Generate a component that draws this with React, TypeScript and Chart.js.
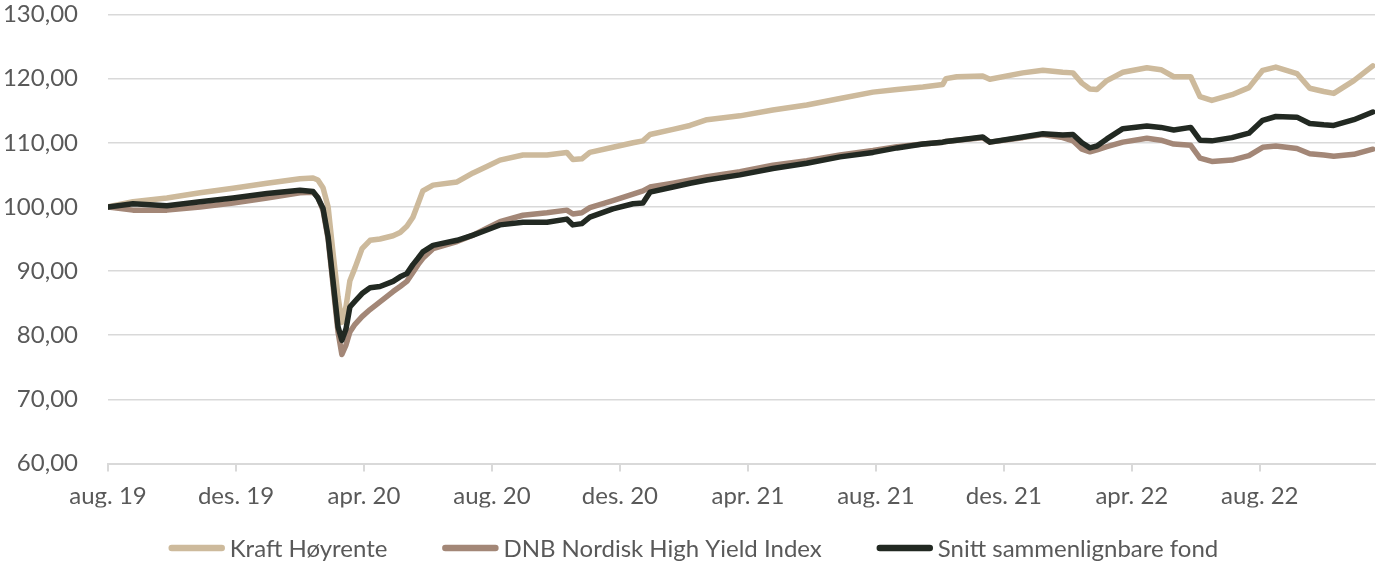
import React, { useEffect, useRef } from 'react';
import { Chart, registerables } from 'chart.js';

Chart.register(...registerables);

// x positions in months since August 2019
const months = [
  0, 0.78, 1.84, 2.88, 3.91, 4.97, 6.0, 6.41, 6.56, 6.72, 6.88, 7.03, 7.19, 7.31, 7.44, 7.56, 7.72, 7.94,
  8.19, 8.5, 8.91, 9.13, 9.34, 9.53, 9.69, 9.84, 10.16, 10.91, 11.41, 11.84, 12.25, 12.97, 13.72, 14.34,
  14.53, 14.81, 15.06, 15.78, 16.41, 16.72, 16.94, 17.66, 18.19, 18.72, 19.75, 20.78, 21.84, 22.88, 23.91,
  24.66, 25.47, 26.09, 26.19, 26.53, 27.34, 27.56, 28.59, 29.22, 29.84, 30.16, 30.44, 30.69, 30.91, 31.22,
  31.72, 32.47, 32.91, 33.31, 33.84, 34.13, 34.5, 35.13, 35.66, 36.09, 36.5, 37.16, 37.56, 38.0, 38.31,
  38.94, 39.53,
];

const kraft = [
  100.0, 100.8, 101.4, 102.2, 102.9, 103.7, 104.4, 104.5, 104.2, 103.0, 100.0, 93.0, 86.0, 82.0, 84.5, 88.5,
  90.5, 93.5, 94.8, 95.0, 95.5, 96.0, 97.0, 98.4, 100.5, 102.5, 103.4, 103.9, 105.3, 106.3, 107.3, 108.1,
  108.1, 108.5, 107.4, 107.5, 108.5, 109.3, 110.0, 110.3, 111.3, 112.1, 112.7, 113.6, 114.2, 115.1, 115.9,
  116.9, 117.9, 118.3, 118.7, 119.1, 120.0, 120.3, 120.4, 119.9, 120.9, 121.3, 121.0, 120.9, 119.3, 118.4,
  118.3, 119.7, 121.0, 121.7, 121.4, 120.3, 120.3, 117.2, 116.6, 117.5, 118.6, 121.3, 121.8, 120.8, 118.5,
  118.0, 117.7, 119.7, 122.0,
];

const dnb = [
  100.0, 99.5, 99.5, 100.0, 100.6, 101.4, 102.2, 102.3, 101.5, 99.5, 95.0, 88.0, 80.5, 77.0, 78.5, 80.5,
  81.7, 82.9, 84.0, 85.2, 86.8, 87.6, 88.4, 89.8, 91.0, 92.0, 93.5, 94.6, 95.6, 96.7, 97.7, 98.7, 99.1,
  99.5, 98.9, 99.1, 99.9, 101.0, 102.0, 102.5, 103.1, 103.7, 104.2, 104.7, 105.5, 106.5, 107.2, 108.1,
  108.8, 109.4, 109.8, 110.1, 110.2, 110.4, 110.8, 110.1, 110.8, 111.3, 110.8, 110.3, 109.0, 108.6, 108.9,
  109.4, 110.1, 110.7, 110.4, 109.8, 109.6, 107.6, 107.1, 107.3, 108.0, 109.3, 109.5, 109.1, 108.3, 108.1,
  107.9, 108.2, 109.0,
];

const snitt = [
  100.0, 100.5, 100.2, 100.8, 101.4, 102.1, 102.6, 102.4, 101.4, 99.8, 95.3, 88.6, 81.3, 79.2, 81.0, 84.4,
  85.3, 86.5, 87.4, 87.6, 88.4, 89.1, 89.6, 91.0, 92.0, 93.0, 94.0, 94.8, 95.6, 96.4, 97.2, 97.6, 97.6,
  98.1, 97.2, 97.4, 98.4, 99.7, 100.5, 100.6, 102.3, 103.1, 103.7, 104.2, 105.0, 106.0, 106.8, 107.8,
  108.5, 109.2, 109.8, 110.1, 110.2, 110.4, 110.9, 110.1, 110.9, 111.4, 111.2, 111.3, 110.0, 109.2, 109.5,
  110.6, 112.2, 112.6, 112.4, 112.0, 112.4, 110.4, 110.3, 110.8, 111.5, 113.5, 114.1, 114.0, 113.0, 112.8,
  112.7, 113.6, 114.8,
];

const seriesNames = ['Kraft Høyrente', 'DNB Nordisk High Yield Index', 'Snitt sammenlignbare fond'];
const seriesColors = ['#CDBA9C', '#A38777', '#222922'];

const tickMonths = [0, 4, 8, 12, 16, 20, 24, 28, 32, 36];
const tickLabels = ['aug. 19', 'des. 19', 'apr. 20', 'aug. 20', 'des. 20', 'apr. 21', 'aug. 21', 'des. 21', 'apr. 22', 'aug. 22'];

const FONT = 'Lato';
const FONT_SIZE = 24;
const TEXT_COLOR = '#595959';

const legendPlugin = {
  id: 'customLegend',
  afterDraw(chart: any) {
    const ctx = chart.ctx;
    ctx.save();
    ctx.font = `${FONT_SIZE}px ${FONT}`;
    const sample = 50;
    const gapText = 8;
    const gapItem = 58;
    const items = chart.data.datasets.map((ds: any) => ({
      label: ds.label,
      color: ds.borderColor,
      w: ctx.measureText(ds.label).width,
    }));
    let total = 0;
    items.forEach((it: any, i: number) => {
      total += sample + gapText + it.w + (i > 0 ? gapItem : 0);
    });
    let x = (chart.width - total) / 2 + 5;
    const y = 548;
    items.forEach((it: any) => {
      ctx.beginPath();
      ctx.lineCap = 'round';
      ctx.lineWidth = 6.5;
      ctx.strokeStyle = it.color;
      ctx.moveTo(x, y);
      ctx.lineTo(x + sample, y);
      ctx.stroke();
      ctx.fillStyle = TEXT_COLOR;
      ctx.textBaseline = 'middle';
      ctx.textAlign = 'left';
      ctx.fillText(it.label, x + sample + gapText, y + 1);
      x += sample + gapText + it.w + gapItem;
    });
    ctx.restore();
  },
};

export default function App() {
  const canvasRef = useRef<HTMLCanvasElement | null>(null);

  useEffect(() => {
    let chart: Chart | null = null;
    let cancelled = false;
    const make = () => {
      if (cancelled || !canvasRef.current) return;
      const mk = (data: number[], i: number) => ({
        label: seriesNames[i],
        data: months.map((m, k) => ({ x: m, y: data[k] })),
        borderColor: seriesColors[i],
        backgroundColor: seriesColors[i],
        borderWidth: 5.5,
        pointRadius: 0,
        tension: 0,
        borderCapStyle: 'round',
        borderJoinStyle: 'round',
        order: 2 - i,
      });
      chart = new Chart(canvasRef.current, {
        type: 'line',
        data: { datasets: [mk(kraft, 0), mk(dnb, 1), mk(snitt, 2)] as any },
        options: {
          responsive: false,
          animation: false,
          devicePixelRatio: 1,
          layout: { autoPadding: false, padding: { top: 14.5, right: 5, bottom: 57.5, left: 0 } },
          plugins: {
            legend: { display: false },
            tooltip: { enabled: false },
            title: { display: false },
          },
          scales: {
            x: {
              type: 'linear',
              min: 0,
              max: 39.6,
              afterBuildTicks: (s: any) => {
                s.ticks = tickMonths.map((v) => ({ value: v }));
              },
              afterFit: (s: any) => {
                s.height = 44;
              },
              ticks: {
                autoSkip: false,
                maxRotation: 0,
                padding: 10,
                color: TEXT_COLOR,
                font: { family: FONT, size: FONT_SIZE },
                callback: (v: any) => {
                  const idx = tickMonths.indexOf(Number(v));
                  return idx >= 0 ? tickLabels[idx] : '';
                },
              },
              grid: {
                display: true,
                drawOnChartArea: false,
                drawTicks: true,
                tickLength: 8,
                color: '#d9d9d9',
                lineWidth: 2,
              },
              border: { display: true, color: '#d9d9d9', width: 2 },
            },
            y: {
              min: 60,
              max: 130,
              afterFit: (s: any) => {
                s.width = 108;
              },
              ticks: {
                stepSize: 10,
                padding: 0,
                color: TEXT_COLOR,
                font: { family: FONT, size: FONT_SIZE },
                callback: (v: any) => Number(v).toFixed(2).replace('.', ','),
              },
              grid: {
                color: '#d9d9d9',
                lineWidth: 1.5,
                drawTicks: true,
                tickLength: 30,
                tickColor: 'rgba(0,0,0,0)',
              },
              border: { display: false },
            },
          },
        },
        plugins: [legendPlugin],
      } as any);
    };
    const fontsApi = (document as any).fonts;
    if (fontsApi && fontsApi.load) {
      fontsApi.load(`${FONT_SIZE}px ${FONT}`).then(make, make);
    } else {
      make();
    }
    return () => {
      cancelled = true;
      if (chart) chart.destroy();
    };
  }, []);

  return (
    <div style={{ position: 'fixed', left: 0, top: 0, width: 1380, height: 565, background: '#fff' }}>
      <canvas ref={canvasRef} width={1380} height={565} style={{ width: 1380, height: 565, display: 'block' }} />
    </div>
  );
}
